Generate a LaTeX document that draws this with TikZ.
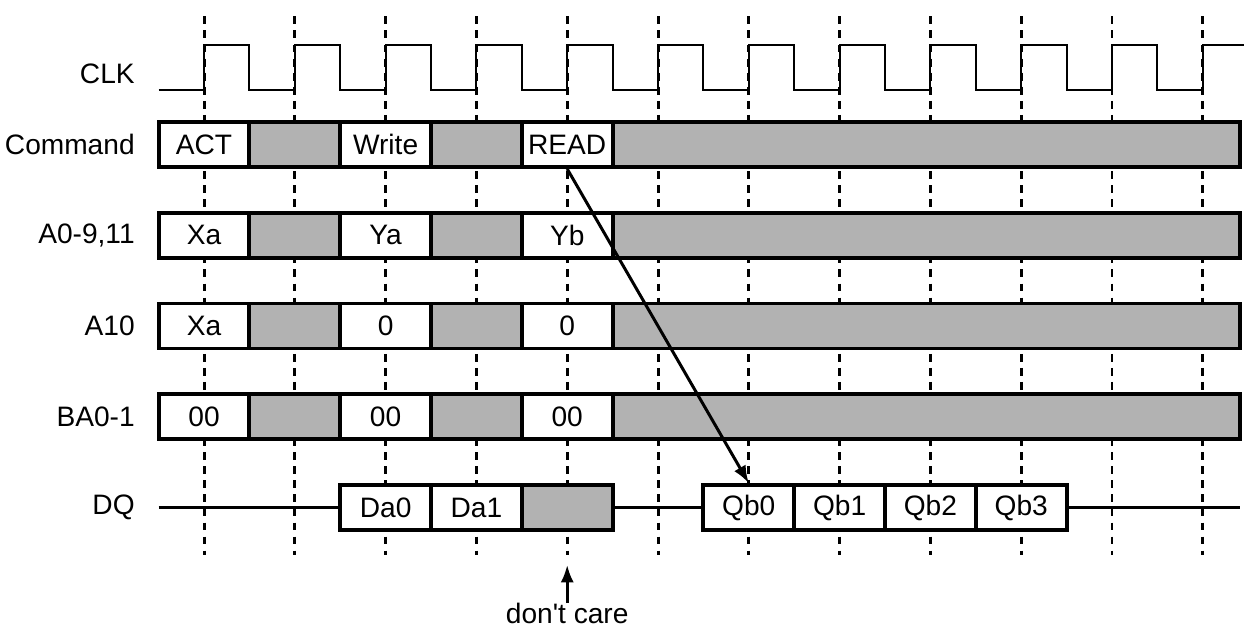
\documentclass[tikz,border=0pt]{standalone}
\usepackage{fontspec}
\setmainfont{Liberation Sans}[Ligatures=TeXOff]
\usepackage{tikz}
\usepackage{xcolor}
\usetikzlibrary{arrows.meta}

\definecolor{dontcare}{RGB}{178,178,178}

\tikzset{
	cell/.style={draw, line width=2.2pt, fill=white, inner sep=0pt,
		minimum width=1.816cm, minimum height=0.9cm},
	dccell/.style={cell, fill=dontcare},
	sig/.style={anchor=east, inner sep=0pt},
	gridline/.style={line width=1.7pt, dash pattern=on 4.5pt off 3.5pt},
	wire/.style={line width=1.5pt},
	pointer/.style={line width=1.7pt, -{Latex[length=10pt, width=7.5pt]}}
}

\begin{document}
\begin{tikzpicture}[x=1.816cm, y=1.816cm, font=\fontsize{16}{19}\selectfont]
	\useasboundingbox (-2.247,-5.325) rectangle (11.498,1.591);
	\foreach \x in {0,...,11}
	{
		\draw[gridline] (\x,1.41) -- (\x,-4.52);
	}
	\node[sig] (lbl-clk) at (-0.76,0.78) {CLK};
	\draw[line width=1.2pt] (-0.5,0.6)
		\foreach \x in {0,...,10} { -- (\x,0.6) -- (\x,1.1) -- (\x+0.5,1.1) -- (\x+0.5,0.6) }
		-- (11,0.6) -- (11,1.1) -- (11.45,1.1);
	\foreach \y/\n/\l/\a/\b/\c in {0/cmd/Command/ACT/Write/READ, -1/addr/{A0-9,11}/Xa/Ya/Yb, -2/aten/A10/Xa/0/0, -3/bank/BA0-1/00/00/00}
	{
		\node[sig] (lbl-\n) at (-0.76,\y) {\l};
		\node[cell] (\n-0) at (0,\y) {\a};
		\node[dccell] (\n-1) at (1,\y) {};
		\node[cell] (\n-2) at (2,\y) {\b};
		\node[dccell] (\n-3) at (3,\y) {};
		\node[cell] (\n-4) at (4,\y) {\c};
		\node[dccell, minimum width=12.55cm] (\n-5) at (7.955,\y) {};
	}
	\node[sig] (lbl-dq) at (-0.76,-4) {DQ};
	\coordinate (dq-start) at (-0.5,-4);
	\coordinate (dq-end) at (11.41,-4);
	\node[cell] (da0) at (2,-4) {Da0};
	\node[cell] (da1) at (3,-4) {Da1};
	\node[dccell] (dq-x) at (4,-4) {};
	\foreach \i in {0,...,3}
	{
		\node[cell] (qb\i) at (6+\i,-4) {Qb\i};
	}
	\draw[wire] (dq-start) -- (da0.west);
	\draw[wire] (dq-x.east) -- (qb0.west);
	\draw[wire] (qb3.east) -- (dq-end);
	\draw[pointer] (cmd-4.south) -- (qb0.north);
	\node[inner sep=0pt] (care) at (4,-5.17) {don't care};
	\coordinate (care-tip) at (4,-4.63);
	\draw[pointer] (care.north) -- (care-tip);
\end{tikzpicture}
\end{document}
